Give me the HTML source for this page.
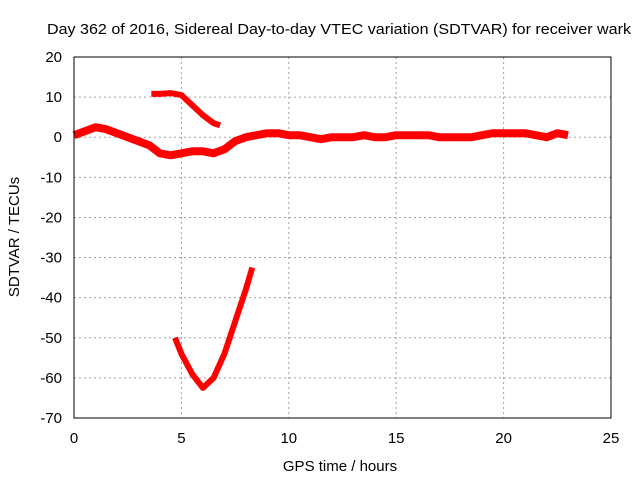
<!DOCTYPE html>
<html><head><meta charset="utf-8"><style>
body{margin:0;background:#fff}
svg{display:block;font-family:"Liberation Sans",sans-serif;font-size:14px}
</style></head><body>
<svg id="chart" width="640" height="480" viewBox="0 0 640 480">
<rect width="640" height="480" fill="#fff"/>
<text x="47" y="34" textLength="584" lengthAdjust="spacingAndGlyphs" font-size="15">Day 362 of 2016, Sidereal Day-to-day VTEC variation (SDTVAR) for receiver wark</text>
<g id="grid"></g><g id="ticks"></g><g id="series"></g>
<rect x="74" y="57" width="537" height="361" fill="none" stroke="#000" stroke-width="1"/>
<text x="340" y="471" text-anchor="middle" font-size="15">GPS time / hours</text>
<text transform="translate(19,237) rotate(-90)" text-anchor="middle" font-size="15">SDTVAR / TECUs</text>
</svg>
<script>
const xTicks=[0,5,10,15,20,25];
const yTicks=[20,10,0,-10,-20,-30,-40,-50,-60,-70];
const mainT=[0,0.5,1,1.5,2,2.5,3,3.5,4,4.5,5,5.5,6,6.5,7,7.5,8,8.5,9,9.5,10,10.5,11,11.5,12,12.5,13,13.5,14,14.5,15,15.5,16,16.5,17,17.5,18,18.5,19,19.5,20,20.5,21,21.5,22,22.5,23];
const mainV=[0.5,1.5,2.5,2,1,0,-1,-2,-4,-4.5,-4,-3.5,-3.5,-4,-3,-1,0,0.5,1,1,0.5,0.5,0,-0.5,0,0,0,0.5,0,0,0.5,0.5,0.5,0.5,0,0,0,0,0.5,1,1,1,1,0.5,0,1,0.5];
const arcT=[3.6,4,4.5,5,5.5,6,6.5,6.8];
const arcV=[10.8,10.8,11,10.5,8,5.5,3.5,3];
const dipT=[4.7,5,5.5,6,6.5,7,7.5,8,8.3];
const dipV=[-50,-54,-59,-62.5,-60,-54,-46,-38,-32.5];
const NS="http://www.w3.org/2000/svg";
const X=v=>74+v*537/25, Y=v=>57+(20-v)*361/90;
function mk(t,a,p){const e=document.createElementNS(NS,t);for(const k in a)e.setAttribute(k,a[k]);p.appendChild(e);return e;}
const grid=document.getElementById('grid'),ticks=document.getElementById('ticks'),ser=document.getElementById('series');
xTicks.forEach(v=>{
 if(v>0&&v<25){const g=mk('line',{x1:X(v),x2:X(v),y1:57,y2:418,stroke:'#a0a0a0','stroke-dasharray':'2,3'},grid);
 
 }
 const t=mk('text',{x:X(v),y:443,'text-anchor':'middle','font-size':15},ticks);t.textContent=v;
 
 
});
yTicks.forEach(v=>{
 if(v<20&&v>-70){const g=mk('line',{x1:74,x2:611,y1:Y(v),y2:Y(v),stroke:'#a0a0a0','stroke-dasharray':'2,3'},grid);
 
 }
 const t=mk('text',{x:62,y:Y(v)+5,'text-anchor':'end','font-size':15},ticks);t.textContent=v;
 
 
});
function line(T,V,w,name){
 const d=T.map((t,i)=>(i?'L':'M')+X(t).toFixed(1)+' '+Y(V[i]).toFixed(1)).join(' ');
 const p=mk('path',{d:d,fill:'none',stroke:'#f00','stroke-width':w,'stroke-linejoin':'round'},ser);
 
 
}
line(mainT,mainV,8,'series-main');
line(arcT,arcV,6,'series-arc');
line(dipT,dipV,6,'series-dip');
</script>
</body></html>
